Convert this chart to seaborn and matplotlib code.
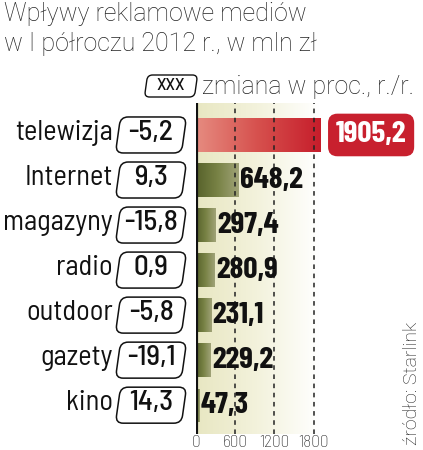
import numpy as np
import matplotlib
matplotlib.use("Agg")
import matplotlib.pyplot as plt
import seaborn as sns
from matplotlib.patches import FancyBboxPatch
from matplotlib.colors import LinearSegmentedColormap
from matplotlib.transforms import blended_transform_factory, Affine2D

categories = ["telewizja", "Internet", "magazyny", "radio", "outdoor", "gazety", "kino"]
values = [1905.2, 648.2, 297.4, 280.9, 231.1, 229.2, 47.3]
changes = ["-5,2", "9,3", "-15,8", "0,9", "-5,8", "-19,1", "14,3"]
value_labels = ["1905,2", "648,2", "297,4", "280,9", "231,1", "229,2", "47,3"]
xticks = [0, 600, 1200, 1800]

title = "Wpływy reklamowe mediów\nw I półroczu 2012 r., w mln zł"
legend_text = "zmiana w proc., r./r."
source = "źródło: Starlink"

sns.set_style("white")
plt.rcParams['font.family'] = ['Roboto', 'DejaVu Sans']
semi = ['Barlow Semi Condensed', 'DejaVu Sans']
cond = ['Barlow Condensed', 'DejaVu Sans']

W, H = 423, 450
fig = plt.figure(figsize=(W / 100, H / 100), dpi=100)
ax = fig.add_axes([196 / W, 1 - 434 / H, (322 - 196) / W, (434 - 103) / H])

sns.barplot(x=values, y=categories, orient="h", ax=ax, width=0.74, color="#6b7535")
ylim = (6.64, -0.71)

# background gradient
bg = LinearSegmentedColormap.from_list("bg", ["#e8e7c2", "#f3f2dc", "#ffffff"])
ax.imshow(np.linspace(0, 1, 256).reshape(1, -1), cmap=bg, aspect="auto",
          extent=[0, 1880, ylim[0], ylim[1]], zorder=0)

green = LinearSegmentedColormap.from_list("g", ["#56612a", "#788245", "#a0a378"])
red = LinearSegmentedColormap.from_list("r", ["#e68b80", "#d6504d", "#c61d2b"])
grad = np.linspace(0, 1, 256).reshape(1, -1)
for i, p in enumerate(ax.patches):
    x0, y0 = p.get_x(), p.get_y()
    w, h = p.get_width(), p.get_height()
    cmap = red if i == 0 else green
    im = ax.imshow(grad, cmap=cmap, aspect="auto",
                   extent=[x0, x0 + w, y0 + h, y0], zorder=2)
    im.set_clip_path(p)
    p.set_facecolor("none")
    p.set_edgecolor("none")
ax.set_xlim(0, 1930)
ax.set_ylim(*ylim)

for x in xticks[1:]:
    ax.axvline(x, color="#222222", lw=1.1, ls=(0, (3, 3)), zorder=3)
ax.axvline(0, color="#111111", lw=3, zorder=4)

sns.despine(ax=ax, left=True, bottom=True)
ax.set_xticks(xticks)
ax.set_xticklabels([str(t) for t in xticks], fontsize=12.5, fontweight="light",
                   family=semi, color="#222222")
ax.tick_params(axis="x", length=0, pad=0.5)
ax.set_yticks([])
ax.set_xlabel("")
ax.set_ylabel("")

# value labels
for i, v in enumerate(values):
    if i == 0:
        ax.text(1.11, i, value_labels[i],
                transform=blended_transform_factory(ax.transAxes, ax.transData),
                ha="left", va="center", color="white", fontsize=22.5, fontweight="bold",
                family=cond, zorder=6,
                bbox=dict(boxstyle="round,pad=0.25,rounding_size=0.3", fc="#c8202e", ec="none"))
    else:
        ax.text(v + 25, i, value_labels[i], ha="left", va="center", color="#111111",
                fontsize=22.5, fontweight="bold", family=cond, zorder=6)

# category labels and change values
ytr = blended_transform_factory(fig.transFigure, ax.transData)
for i, (c, ch) in enumerate(zip(categories, changes)):
    ax.text(113 / W, i - 0.04, c, transform=ytr, ha="right", va="center",
            fontsize=20.5, fontweight="normal", family=semi, color="#111111")
    ax.text(151 / W, i - 0.04, ch, transform=ytr, ha="center", va="center",
            fontsize=21, fontweight="medium", family=semi, color="#111111")


def data_to_fig_y(y):
    disp = ax.transData.transform((0, y))
    return fig.transFigure.inverted().transform(disp)[1]


def slanted(cx, cy):
    # skew a box about its own centre (display coords) to get the "/" edges
    return fig.transFigure + Affine2D().translate(-cx * W, -cy * H).skew_deg(8, 0).translate(cx * W, cy * H)


for i in range(len(categories)):
    yc = data_to_fig_y(i)
    bh = 36 / H
    box = FancyBboxPatch((118 / W, yc - bh / 2), 66 / W, bh,
                         transform=slanted(151 / W, yc),
                         boxstyle="round,pad=0,rounding_size=0.018", mutation_aspect=W / H,
                         fc="none", ec="#111111", lw=1.1)
    fig.patches.append(box)

# legend box
lb = FancyBboxPatch((146 / W, 1 - 97 / H), 50 / W, 22 / H,
                    transform=slanted(171 / W, 1 - 86 / H),
                    boxstyle="round,pad=0,rounding_size=0.012", mutation_aspect=W / H,
                    fc="none", ec="#111111", lw=1.0)
fig.patches.append(lb)
fig.text(171 / W, 1 - 86 / H, "XXX", ha="center", va="center", fontsize=13, family=semi,
         fontweight="medium", color="#111111")
fig.text(202 / W, 1 - 87 / H, legend_text, ha="left", va="center", fontsize=18,
         fontweight="light", color="#222222")

fig.text(4 / W, 1 - 2 / H, title, ha="left", va="top", fontsize=18, fontweight="light",
         color="#222222", linespacing=1.3)
fig.text(412 / W, 1 - 383 / H, source, ha="center", va="center", rotation=90, fontsize=14,
         fontweight="light", color="#222222")

fig.savefig("out.png", dpi=100)
